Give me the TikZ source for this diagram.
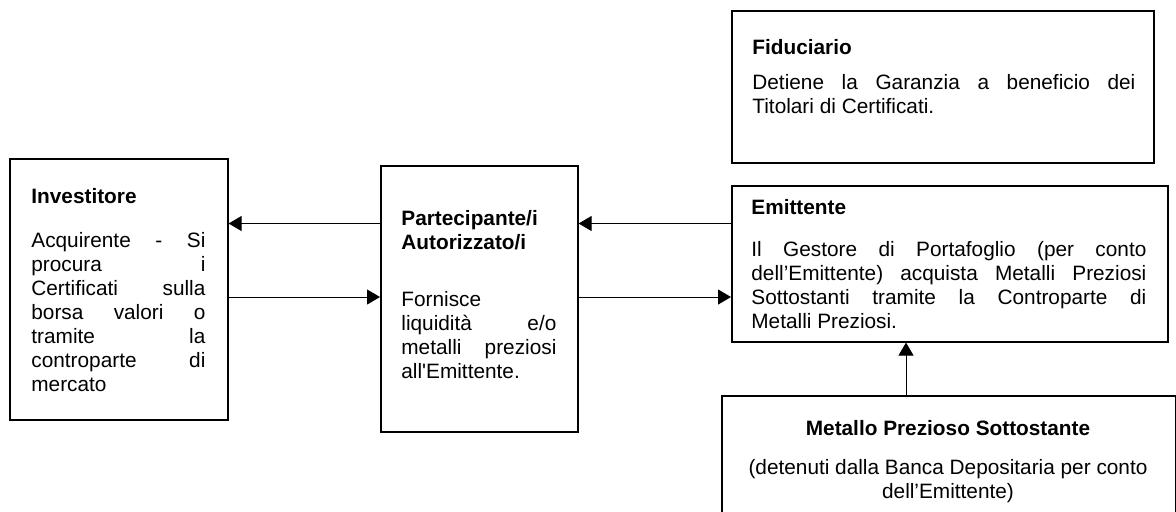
\documentclass[tikz,border=0pt]{standalone}
\usepackage{fontspec}
\setmainfont{Liberation Sans}
\usetikzlibrary{arrows.meta}
\tikzset{
  box/.style={draw, line width=0.8pt, inner sep=0pt, anchor=north west},
  flow/.style={-{Triangle[length=6.5pt,width=7.5pt]}, line width=0.5pt},
  txt/.style={inner sep=0pt, anchor=base west, font=\fontsize{10.4}{12}\selectfont},
  txtc/.style={txt, anchor=base}
}
\newcommand{\jpar}[2]{\parbox[t]{#1}{\tolerance=10000\pretolerance=-1\hyphenpenalty=10000\exhyphenpenalty=10000\hbadness=10000\hfuzz=3pt #2}}

\begin{document}
\begin{tikzpicture}[x=0.5pt,y=-0.5pt]
\useasboundingbox (0,0) rectangle (1176,511);
\node[box, minimum width=109pt, minimum height=130.5pt] (inv) at (9,158) {};
\node[box, minimum width=98.5pt, minimum height=133pt] (part) at (380,165) {};
\node[box, minimum width=218pt, minimum height=78pt] (emit) at (731,185) {};
\node[box, minimum width=211pt, minimum height=76pt] (fid) at (731,10) {};
\node[box, minimum width=227pt, minimum height=80pt] (met) at (721,395) {};
\coordinate (upper) at (0,223.5);
\coordinate (lower) at (0,297);
\coordinate (vert) at (906,0);
\draw [flow] (part.west |- upper) -- (inv.east |- upper);
\draw [flow] (inv.east |- lower) -- (part.west |- lower);
\draw [flow] (emit.west |- upper) -- (part.east |- upper);
\draw [flow] (part.east |- lower) -- (emit.west |- lower);
\draw [flow] (met.north -| vert) -- (emit.south -| vert);
\node [txt] (invtitle) at (31,203) {\textbf{Investitore}};
\node [txt] (invbody) at (31,247) {\jpar{87pt}{Acquirente - Si\linebreak procura i\linebreak Certificati sulla\linebreak borsa valori o\linebreak tramite la\linebreak controparte di\linebreak mercato}};
\node [txt] (parttitle) at (401,225) {\parbox[t]{90pt}{\bfseries Partecipante/i\\Autorizzato/i}};
\node [txt] (partbody) at (401,306) {\jpar{77.5pt}{Fornisce\linebreak liquidità e/o\linebreak metalli preziosi\linebreak all\textquotesingle Emittente.}};
\node [txt] (emittitle) at (751,214) {\textbf{Emittente}};
\node [txt] (emitbody) at (751,256) {\jpar{197.5pt}{Il Gestore di Portafoglio (per conto\linebreak dell’Emittente) acquista Metalli Preziosi\linebreak Sottostanti tramite la Controparte di\linebreak Metalli Preziosi.}};
\node [txt] (fidtitle) at (752,54) {\textbf{Fiduciario}};
\node [txt] (fidbody) at (752,89) {\jpar{191.5pt}{Detiene la Garanzia a beneficio dei\linebreak Titolari di Certificati.}};
\node [txtc] (mettitle) at (948,435) {\textbf{Metallo Prezioso Sottostante}};
\node [txtc] (metbody) at (948,474) {\parbox[t]{215pt}{\centering (detenuti dalla Banca Depositaria per conto\\ dell’Emittente)}};
\end{tikzpicture}
\end{document}
